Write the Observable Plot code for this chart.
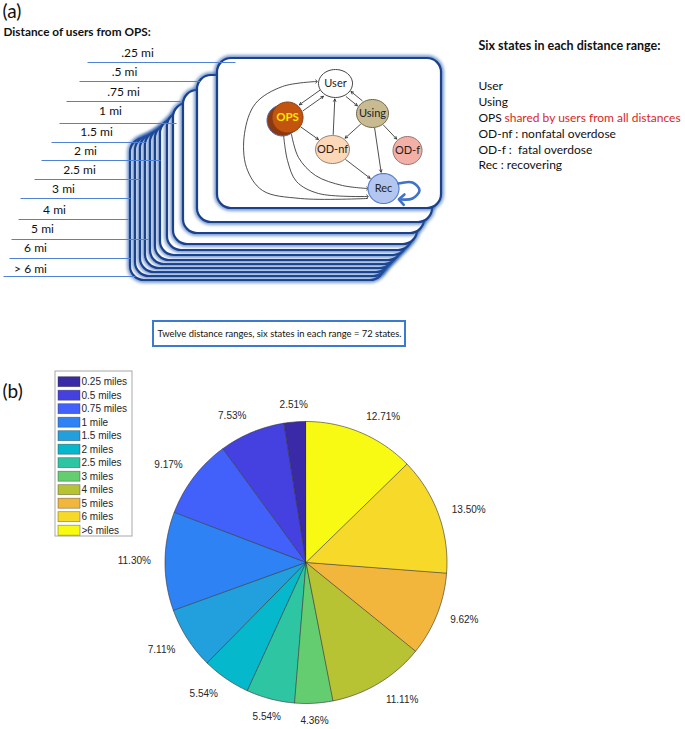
<!DOCTYPE html>
<html>
<head>
<meta charset="utf-8">
<script src="https://cdn.jsdelivr.net/npm/d3@7"></script>
<script src="https://cdn.jsdelivr.net/npm/@observablehq/plot@0.6"></script>
<style>
  body { margin: 0; background: #fff; }
  #chart svg { display: block; }
</style>
</head>
<body>
<div id="chart"></div>
<script>
// ---------------- DATA ----------------
const distanceRanges = [".25 mi", ".5 mi", ".75 mi", "1 mi", "1.5 mi", "2 mi", "2.5 mi", "3 mi", "4 mi", "5 mi", "6 mi", "> 6 mi"];
const stateNames = ["User", "OPS", "Using", "OD-nf", "OD-f", "Rec"];
const stateLegend = ["User", "Using", "OPS", "OD-nf : nonfatal overdose", "OD-f :  fatal overdose", "Rec : recovering"];
const opsNote = "shared by users from all distances";
const transitions = [
  ["User", "OPS"], ["OPS", "User"], ["User", "Using"], ["Using", "User"],
  ["OD-nf", "User"], ["OPS", "OD-nf"], ["Using", "OD-nf"], ["Using", "OD-f"],
  ["Using", "Rec"], ["OD-nf", "Rec"]
];
const captionText = "Twelve distance ranges, six states in each range = 72 states.";

const pieCategories = ["0.25 miles", "0.5 miles", "0.75 miles", "1 mile", "1.5 miles", "2 miles", "2.5 miles", "3 miles", "4 miles", "5 miles", "6 miles", ">6 miles"];
const pieShares = [2.51, 7.53, 9.17, 11.30, 7.11, 5.54, 5.54, 4.36, 11.11, 9.62, 13.50, 12.71];
const pieColors = ["#3b2aa7", "#4541e0", "#4261fb", "#2f82f4", "#22a0dd", "#06b8cc", "#2ec5a3", "#63cd70", "#b8c333", "#f3b63c", "#f7d92a", "#f9fa14"];

// ---------------- LAYOUT ----------------
const W = 685, H = 729;
const FONT = "Lato, 'Open Sans', sans-serif";
const MFONT = "'Liberation Sans', Arial, sans-serif";

// stacked cards, front (index 0) to back
const cardBox = [
  [217, 58, 441, 208], [197, 75, 432, 222], [183, 90, 424, 233], [173, 103, 417, 244],
  [167, 112, 412, 250], [160, 119, 407, 255], [155, 124, 402, 260], [150, 128, 398, 264],
  [145, 131, 394, 268], [140, 134, 390, 272], [135, 136, 387, 276], [130, 138, 384, 280]
];
// label centre and leader line for each distance range
const labelPos = [[137, 53], [124, 72], [123, 92], [110, 111], [96, 132], [85, 151], [79, 170], [63, 189], [54, 210], [42, 229], [35, 248], [30, 269]];
const leaderPos = [[87, 235, 62], [79, 200, 81], [66, 180, 101], [59, 176, 123], [51, 145, 142], [41, 160, 160], [34, 140, 179], [20, 130, 198], [18, 128, 219], [11, 148, 239], [9, 130, 258], [3, 135, 276]];

const nodeStyle = {
  "User":  {cx: 335, cy: 83,  rx: 17,   ry: 14,   fill: "#ffffff", stroke: "#444",    text: "#222"},
  "OPS":   {cx: 287, cy: 117, rx: 15.5, ry: 15.5, fill: "#c2540f", stroke: "#8a3a0c", text: "#ffe600"},
  "Using": {cx: 372, cy: 113, rx: 16,   ry: 14,   fill: "#c8bb92", stroke: "#6d6448", text: "#222"},
  "OD-nf": {cx: 332, cy: 149, rx: 17,   ry: 14,   fill: "#fcd8b8", stroke: "#9a8170", text: "#222"},
  "OD-f":  {cx: 407, cy: 150, rx: 14.5, ry: 14,   fill: "#f3b0a6", stroke: "#9a7070", text: "#222"},
  "Rec":   {cx: 383, cy: 188, rx: 15.5, ry: 15,   fill: "#b3c6ef", stroke: "#5a7fce", text: "#222"}
};

const pieC = {cx: 305.5, cy: 562, r: 141};

// ---------------- DERIVED GEOMETRY ----------------
const cards = cardBox.map((b, i) => ({key: distanceRanges[i], x1: b[0], y1: b[1], x2: b[2], y2: b[3]})).reverse();
const labels = distanceRanges.map((t, i) => ({text: t, x: labelPos[i][0], y: labelPos[i][1]}));
const leaders = distanceRanges.map((t, i) => ({x1: leaderPos[i][0], x2: leaderPos[i][1], y: leaderPos[i][2]}));

function ellipsePts(id, dx = 0, dy = 0) {
  const s = nodeStyle[id], pts = [];
  for (let k = 0; k < 48; k++) {
    const a = 2 * Math.PI * k / 48;
    pts.push({id, x: s.cx + dx + s.rx * Math.cos(a), y: s.cy + dy + s.ry * Math.sin(a)});
  }
  return pts;
}
function boundary(s, ux, uy) {
  return 1 / Math.sqrt((ux / s.rx) ** 2 + (uy / s.ry) ** 2);
}
const arrows = transitions.map(([a, b]) => {
  const A = nodeStyle[a], B = nodeStyle[b];
  let dx = B.cx - A.cx, dy = B.cy - A.cy;
  const L = Math.hypot(dx, dy); const ux = dx / L, uy = dy / L;
  const twoWay = transitions.some(([p, q]) => p === b && q === a);
  const off = twoWay ? 3.5 : 0;
  const nx = -uy * off, ny = ux * off;
  const ta = boundary(A, ux, uy) + 1, tb = boundary(B, ux, uy) + 1.5;
  return {x1: A.cx + ux * ta + nx, y1: A.cy + uy * ta + ny, x2: B.cx - ux * tb + nx, y2: B.cy - uy * tb + ny};
});
// curved transitions (OPS -> Rec twice, Rec <-> User loop)
const curves = [
  {k: "a", pts: [[291, 134], [298, 157], [315, 175], [342, 185], [367, 188]]},
  {k: "b", pts: [[283, 134], [287, 160], [296, 181], [318, 193], [367, 196]]},
  {k: "c", pts: [[367, 198], [300, 198], [262, 190], [246, 167], [244, 133], [255, 103], [282, 86], [316, 81]]}
].flatMap(c => c.pts.map(p => ({k: c.k, x: p[0], y: p[1]})));
const selfLoop = [[398, 183], [412, 182], [419, 190], [412, 198], [401, 199]].map(p => ({x: p[0], y: p[1]}));

// pie slices (counterclockwise from 12 o'clock, like MATLAB pie)
const total = d3.sum(pieShares);
let acc = 0;
const slices = pieShares.map((v, i) => {
  const a0 = acc / total * 2 * Math.PI; acc += v;
  const a1 = acc / total * 2 * Math.PI;
  return {cat: pieCategories[i], v, a0, a1};
});
const slicePts = slices.flatMap(s => {
  const n = Math.max(2, Math.ceil((s.a1 - s.a0) / (Math.PI / 90)));
  const pts = [{cat: s.cat, x: pieC.cx, y: pieC.cy}];
  for (let k = 0; k <= n; k++) {
    const a = s.a0 + (s.a1 - s.a0) * k / n;
    pts.push({cat: s.cat, x: pieC.cx - pieC.r * Math.sin(a), y: pieC.cy - pieC.r * Math.cos(a)});
  }
  return pts;
});
const pieLabels = slices.map(s => {
  const m = (s.a0 + s.a1) / 2;
  const ux = -Math.sin(m), uy = Math.cos(m); // uy>0 = upward
  const R = pieC.r * 1.1;
  return {
    text: s.v.toFixed(2) + "%",
    x: pieC.cx + R * ux, y: pieC.cy - R * uy,
    ha: Math.abs(ux) < 0.3 ? "middle" : (ux < 0 ? "end" : "start"),
    va: Math.abs(uy) < 0.45 ? "middle" : (uy > 0 ? "bottom" : "top")
  };
});
const legendRows = pieCategories.map((c, i) => ({cat: c, y: 381.7 + i * 13.5}));

// ---------------- MARKS ----------------
const marks = [];
// (a) header
marks.push(Plot.text(["(a)"], {x: 2, y: 11, text: d => d, textAnchor: "start", fontSize: 19, fontFamily: FONT, fill: "#111"}));
marks.push(Plot.text(["Distance of users from OPS:"], {x: 3, y: 32, text: d => d, textAnchor: "start", fontSize: 11.8, fontWeight: "bold", fontFamily: FONT, fill: "#111"}));

// stacked cards back to front
for (const c of cards) {
  marks.push(Plot.rect([c], {x1: "x1", x2: "x2", y1: "y1", y2: "y2", rx: 14, fill: "none", stroke: "#2a5cb0", strokeWidth: 6, strokeOpacity: 0.6, ariaDescription: "glow"}));
  marks.push(Plot.rect([c], {x1: "x1", x2: "x2", y1: "y1", y2: "y2", rx: 14, fill: "white", stroke: "#1a418c", strokeWidth: 2.2}));
}
// leader lines and distance labels
marks.push(Plot.link(leaders, {x1: "x1", x2: "x2", y1: "y", y2: "y", stroke: "#4f82d6", strokeWidth: 1.1}));
marks.push(Plot.text(labels, {x: "x", y: "y", text: "text", fontSize: 12, fontFamily: FONT, fill: "#111"}));

// state diagram
marks.push(Plot.line(curves, {x: "x", y: "y", z: "k", curve: "catmull-rom", stroke: "#222", strokeWidth: 0.8, markerEnd: "arrow"}));
marks.push(Plot.arrow(arrows, {x1: "x1", y1: "y1", x2: "x2", y2: "y2", stroke: "#222", strokeWidth: 0.8, headLength: 5, headAngle: 55}));
// OPS shadow disc
marks.push(Plot.line(ellipsePts("OPS", -5, 3), {x: "x", y: "y", curve: "linear-closed", fill: "#8a3912", stroke: "#4a6cb8", strokeWidth: 1}));
for (const id of stateNames) {
  const s = nodeStyle[id];
  marks.push(Plot.line(ellipsePts(id), {x: "x", y: "y", curve: "linear-closed", fill: s.fill, stroke: s.stroke, strokeWidth: id === "Rec" ? 1.2 : 1}));
  marks.push(Plot.text([id], {x: s.cx, y: s.cy, text: d => d, fontSize: id === "OPS" ? 11.5 : 11, fontWeight: id === "OPS" ? "bold" : "normal", fontFamily: FONT, fill: s.text}));
}
marks.push(Plot.line(selfLoop, {x: "x", y: "y", curve: "catmull-rom", stroke: "#3f72c8", strokeWidth: 2.6, markerEnd: "arrow"}));

// right-hand description
marks.push(Plot.text(["Six states in each distance range:"], {x: 478, y: 45, text: d => d, textAnchor: "start", fontSize: 12.5, fontWeight: "bold", fontFamily: FONT, fill: "#111"}));
marks.push(Plot.text(stateLegend, {x: 478, y: (d, i) => 86 + i * 15.8, text: d => d, textAnchor: "start", fontSize: 12, fontFamily: FONT, fill: "#111"}));
marks.push(Plot.text([opsNote], {x: 504, y: 86 + 2 * 15.8, text: d => d, textAnchor: "start", fontSize: 12, fontFamily: FONT, fill: "#d91f1f"}));

// caption box
marks.push(Plot.rect([captionText], {x1: 153, x2: 405, y1: 321, y2: 346, fill: "white", stroke: "#3a7bd0", strokeWidth: 2}));
marks.push(Plot.text([captionText], {x: 279, y: 333.5, text: d => d, fontSize: 9.4, fontFamily: FONT, fill: "#111"}));

// (b) pie chart
marks.push(Plot.text(["(b)"], {x: 2, y: 391, text: d => d, textAnchor: "start", fontSize: 19, fontFamily: FONT, fill: "#111"}));
marks.push(Plot.line(slicePts, {x: "x", y: "y", z: "cat", fill: "cat", curve: "linear-closed", stroke: "#333", strokeWidth: 0.6}));
for (const ha of ["start", "middle", "end"]) for (const va of ["top", "middle", "bottom"]) {
  const sub = pieLabels.filter(d => d.ha === ha && d.va === va);
  if (sub.length) marks.push(Plot.text(sub, {x: "x", y: "y", text: "text", textAnchor: ha, lineAnchor: va, fontSize: 10, fontFamily: MFONT, fill: "#262626"}));
}
// legend
marks.push(Plot.rect([0], {x1: 55, x2: 132, y1: 371, y2: 536, fill: "white", stroke: "#a8a8a8", strokeWidth: 1}));
marks.push(Plot.rect(legendRows, {x1: 58, x2: 80, y1: d => d.y - 5, y2: d => d.y + 5, fill: "cat", stroke: "#333", strokeOpacity: 0.55, strokeWidth: 0.7}));
marks.push(Plot.text(legendRows, {x: 81, y: "y", text: "cat", textAnchor: "start", fontSize: 10, fontFamily: MFONT, fill: "#262626"}));

const chart = Plot.plot({
  width: W, height: H, margin: 0,
  x: {domain: [0, W], range: [0, W], axis: null},
  y: {domain: [0, H], range: [0, H], axis: null},
  color: {domain: pieCategories, range: pieColors},
  style: {background: "white", fontFamily: FONT},
  marks
});

// soft glow for the stacked card borders
const svg = d3.select(chart);
svg.insert("defs", ":first-child").append("filter").attr("id", "cardblur")
  .attr("x", "-10%").attr("y", "-10%").attr("width", "120%").attr("height", "120%")
  .append("feGaussianBlur").attr("stdDeviation", 1.6);
svg.selectAll("g[aria-description='glow']").attr("filter", "url(#cardblur)");

document.getElementById("chart").appendChild(chart);
</script>
</body>
</html>
